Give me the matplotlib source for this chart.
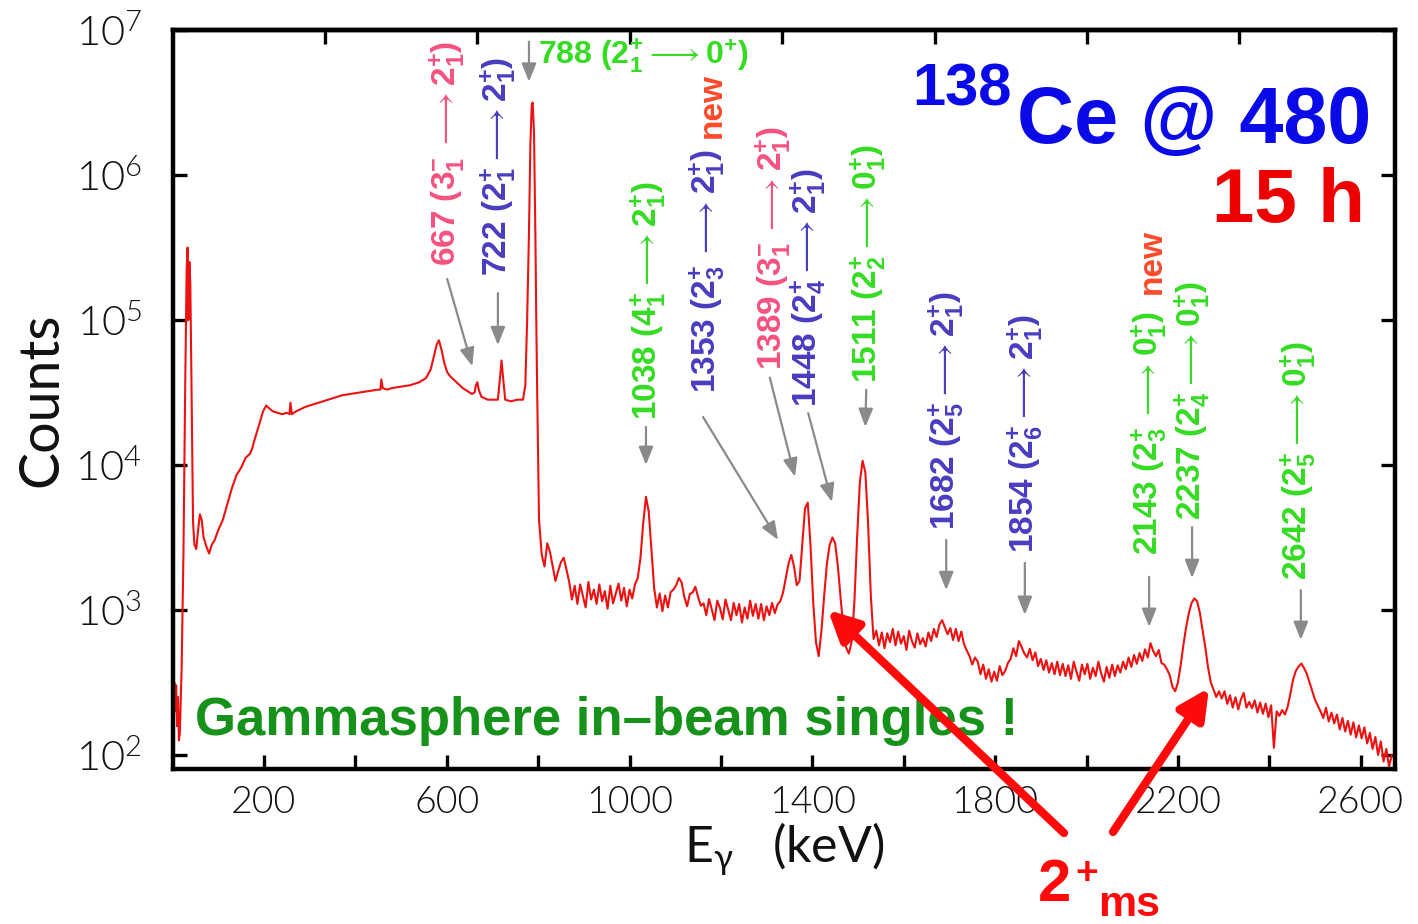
import matplotlib
matplotlib.use("Agg")
import matplotlib.pyplot as plt
from matplotlib.ticker import NullLocator
import numpy as np

# --- spectrum up to the 788 keV line, read point by point (keV, counts) ---
low_kev = [2, 4, 6, 8, 10, 12, 14, 16, 20, 24, 28, 31, 33, 35, 37, 39, 42, 45, 48,
           52, 56, 60, 64, 68, 74, 80, 86, 92, 100, 110, 120, 130, 140, 150, 160,
           170, 175, 180, 190, 198, 205, 212, 220, 230, 240, 250, 256, 258, 261,
           270, 290, 310, 330, 350, 370, 390, 410, 430, 450, 455, 457, 460, 470,
           480, 500, 520, 540, 555, 565, 572, 578, 583, 589, 595, 601, 608, 615,
           625, 635, 645, 655, 661, 664, 667, 670, 676, 690, 705, 712, 716, 720,
           724, 728, 740, 755, 767, 772, 776, 780, 783, 786, 788, 791, 794, 796, 798]
low_counts = [224, 316, 200, 302, 158, 251, 126, 141, 398, 2510, 39800, 224000,
              316000, 100000, 251000, 178000, 25100, 3980, 2820,
              2630, 3550, 4570, 4170, 3160, 2750, 2450, 2820, 3020, 3550, 4170,
              5370, 6920, 8510, 9550, 11200,
              12000, 13200, 15100, 19100, 23400, 25700, 24500, 23400, 22900,
              22400, 22900, 22400, 26900, 22400,
              23400, 25100, 26300, 27500, 28800, 30200, 30900, 31600, 32400,
              33100, 33100, 38900, 33900, 33100,
              33900, 34700, 35500, 37200, 39800, 45700, 56200, 67600, 72400,
              61700, 50100, 43700, 40700, 38900,
              36300, 33900, 32400, 30900, 31600, 35500, 37200, 33100, 29500,
              28200, 28200, 28200, 38000, 52500,
              38000, 28200, 27500, 28200, 28200, 35500, 100000, 398000, 1585000,
              3020000, 3160000, 2000000, 398000, 100000, 31600]

# --- above 800 keV, channel by channel in 6 keV bins ---
bin_start_kev = 802
bin_width_kev = 6
high_counts = [
    4170, 2400, 1995, 2880, 2510, 1995, 1585, 1860, 2140, 2290,   # 802
    1905, 1560, 1180, 1470, 1100, 1500, 1250, 1040, 1560, 1180,   # 862
    1380, 1100, 1500, 1150, 1350, 1020, 1470, 1110, 1300, 1520,   # 922
    1160, 1420, 1060, 1380, 1200, 1500, 1660, 2290, 3980, 6030,   # 982
    4790, 2630, 1410, 1040, 1300, 980, 1260, 1040, 1330, 1380,    # 1042
    1480, 1660, 1550, 1230, 1060, 1290, 1320, 1445, 1230, 1070,   # 1102
    1110, 920, 1190, 1010, 850, 1160, 1030, 860, 1180, 1000,      # 1162
    850, 1120, 920, 1100, 820, 1040, 870, 1160, 910, 1100,        # 1222
    870, 1100, 850, 1060, 920, 1120, 950, 1090, 1150, 1320,       # 1282
    1660, 2090, 2400, 1995, 1480, 1585, 2820, 5010, 5500, 2820,   # 1342
    1120, 600, 480, 720, 1260, 2090, 2820, 3160, 2880, 1995,      # 1402
    1200, 760, 550, 500, 600, 1120, 3160, 7590, 10700, 8910,      # 1462
    3980, 1260, 630, 720, 570, 700, 545, 690, 600, 740,           # 1522
    570, 710, 585, 660, 530, 720, 610, 550, 690, 580,             # 1582
    640, 560, 700, 610, 740, 650, 790, 850, 760, 680,             # 1642
    750, 620, 740, 610, 710, 580, 525, 480, 420, 470,             # 1702
    440, 360, 420, 335, 390, 320, 375, 325, 410, 355,             # 1762
    380, 430, 460, 545, 480, 610, 555, 500, 470, 540,             # 1822
    450, 510, 410, 460, 385, 450, 370, 430, 360, 440,             # 1882
    355, 425, 350, 415, 335, 440, 375, 325, 420, 360,             # 1942
    425, 335, 400, 350, 440, 365, 320, 405, 340, 420,             # 2002
    350, 415, 370, 440, 390, 470, 405, 490, 425, 505,             # 2062
    445, 535, 470, 590, 520, 480, 530, 430, 420, 390,             # 2122
    355, 295, 275, 316, 415, 575, 760, 955, 1120, 1200,           # 2182
    1150, 955, 725, 550, 400, 316, 282, 251, 275, 245,            # 2242
    275, 225, 258, 212, 250, 206, 242, 268, 212, 232,             # 2302
    210, 238, 196, 230, 192, 226, 182, 220, 112, 200,             # 2362
    186, 204, 190, 214, 263, 331, 380, 407, 427, 398,             # 2422
    363, 316, 275, 240, 219, 200, 180, 212, 170, 196,             # 2482
    165, 190, 150, 180, 145, 172, 138, 168, 132, 160,             # 2542
    130, 155, 120, 142, 110, 133, 100, 124, 90, 110,              # 2602
    83, 100,                                                      # 2662
]
high_kev = bin_start_kev + bin_width_kev * np.arange(len(high_counts))

energy = np.concatenate([low_kev, high_kev])
counts = np.concatenate([low_counts, high_counts])

# --- line labels ---
GREEN, BLUE, PINK, NEW = "#35dc22", "#4a3cc0", "#f5527f", "#ff4a2a"
label_texts = [
    r"667 ($3^{-}_{1}\,\longrightarrow 2^{+}_{1}$)",
    r"722 ($2^{+}_{1}\longrightarrow 2^{+}_{1}$)",
    r"1038 ($4^{+}_{1}\longrightarrow 2^{+}_{1}$)",
    r"1353 ($2^{+}_{3}\,\longrightarrow 2^{+}_{1}$)",
    r"1389 ($3^{-}_{1}\,\longrightarrow 2^{+}_{1}$)",
    r"1448 ($2^{+}_{4}\longrightarrow 2^{+}_{1}$)",
    r"1511 ($2^{+}_{2}\longrightarrow 0^{+}_{1}$)",
    r"1682 ($2^{+}_{5}\longrightarrow 2^{+}_{1}$)",
    r"1854 ($2^{+}_{6}\longrightarrow 2^{+}_{1}$)",
    r"2143 ($2^{+}_{3}\,\longrightarrow 0^{+}_{1}$)",
    r"2237 ($2^{+}_{4}\longrightarrow 0^{+}_{1}$)",
    r"2642 ($2^{+}_{5}\longrightarrow 0^{+}_{1}$)",
]
label_colors = [PINK, BLUE, GREEN, BLUE, PINK, BLUE, GREEN, BLUE, BLUE,
                GREEN, GREEN, GREEN]
# foot of each rotated label, arrow tail and arrow tip (keV, counts)
label_foot = [(601, 2.35e5), (712, 2.0e5), (1040, 2.04e4), (1170, 3.14e4),
              (1314, 4.5e4), (1391, 2.5e4), (1522, 3.7e4), (1693, 3560),
              (1865, 2470), (2137, 2390), (2231, 4180), (2463, 1610)]
arrow_tail = [(601, 1.92e5), (712, 1.53e5), (1036, 1.83e4), (1161, 2.14e4),
              (1307, 4.0e4), (1391, 2.28e4), (1518, 3.3e4), (1693, 3040),
              (1865, 2110), (2137, 1690), (2231, 3730), (2469, 1370)]
arrow_tip = [(656, 4.8e4), (712, 6.7e4), (1036, 1.0e4), (1325, 3040),
             (1362, 8300), (1443, 5560), (1516, 1.83e4), (1693, 1370),
             (1865, 925), (2137, 764), (2231, 1660), (2469, 621)]
new_foot = [(1181, 1.8e6), (2143, 1.5e5)]

plt.rcParams["font.family"] = ["Lato", "DejaVu Sans"]
plt.rcParams["font.weight"] = 300
plt.rcParams["mathtext.default"] = "regular"
plt.rcParams["mathtext.fontset"] = "dejavusans"

BOLD_FONT = ["Liberation Sans", "DejaVu Sans"]
INK = "#111111"

fig = plt.figure(figsize=(14.18, 9.24), dpi=100)
ax = fig.add_axes([172.5 / 1418, 1 - 769 / 924, 1222.5 / 1418, 739 / 924])

ax.plot(energy, counts, color="#ee1111", lw=1.5)
ax.set_yscale("log")
ax.set_xlim(0, 2675)
ax.set_ylim(80, 1e7)

ax.set_xticks([200, 600, 1000, 1400, 1800, 2200, 2600])
ax.set_xticks([400, 800, 1200, 1600, 2000, 2400], minor=True)
ax.yaxis.set_minor_locator(NullLocator())
ax.tick_params(which="both", direction="in", length=10, width=2.4,
               top=False, right=True, colors="black", labelcolor=INK)
ax.tick_params(axis="x", labelsize=27, pad=12)
ax.tick_params(axis="y", labelsize=30, pad=22)
for s in ax.spines.values():
    s.set_linewidth(3.2)

top = ax.secondary_xaxis("top")
top.set_xticks([333.5, 667, 1000.5, 1334, 1667.5, 2001, 2334.5])
top.xaxis.set_minor_locator(NullLocator())
top.tick_params(direction="in", length=10, width=2.4, labeltop=False)
top.spines["top"].set_linewidth(3.2)

ax.set_xlabel(r"E$_{\gamma}$   (keV)", fontsize=36, color=INK)
ax.xaxis.set_label_coords(0.5, -0.07)
ax.set_ylabel("Counts", fontsize=40, color=INK)
ax.yaxis.set_label_coords(-0.086, 0.5)

grey_arrow = dict(arrowstyle="-|>,head_length=0.55,head_width=0.22",
                  color="#8a8a8a", lw=1.6, mutation_scale=20,
                  shrinkA=0, shrinkB=0)

for txt, col, foot, tail, tip in zip(label_texts, label_colors, label_foot,
                                     arrow_tail, arrow_tip):
    ax.text(foot[0], foot[1], txt, rotation=90, ha="center", va="bottom",
            color=col, fontsize=24, family=BOLD_FONT, fontweight="bold")
    ax.annotate("", xy=tip, xytext=tail, arrowprops=grey_arrow)

for x, y in new_foot:
    ax.text(x, y, "new", rotation=90, ha="center", va="bottom", color=NEW,
            fontsize=24, family=BOLD_FONT, fontweight="bold")

# the main 788 keV line, horizontal label
ax.text(800, 6.6e6, r"788 ($2^{+}_{1}\longrightarrow 0^{+}$)", ha="left",
        va="center", color=GREEN, fontsize=23, family=BOLD_FONT,
        fontweight="bold")
ax.annotate("", xy=(780, 4.4e6), xytext=(780, 8.3e6), arrowprops=grey_arrow)

ax.text(0.6049, 0.8985, "138", transform=ax.transAxes, color="#0a0ae8",
        fontsize=43, family=BOLD_FONT, fontweight="bold", va="baseline")
ax.text(0.6908, 0.8471, "Ce @ 480", transform=ax.transAxes, color="#0a0ae8",
        fontsize=57, family=BOLD_FONT, fontweight="bold", va="baseline")
ax.text(0.8503, 0.7402, "15 h", transform=ax.transAxes, color="#ee0000",
        fontsize=55, family=BOLD_FONT, fontweight="bold", va="baseline")

ax.text(0.0184, 0.046, "Gammasphere in\u2013beam singles !",
        transform=ax.transAxes, color="#16921a", fontsize=38,
        family=BOLD_FONT, fontweight="bold", va="baseline")

# 2+ mixed-symmetry state markers
red_arrow = dict(arrowstyle="-|>,head_length=0.9,head_width=0.45",
                 color="#ff0a0a", lw=6, mutation_scale=20,
                 shrinkA=0, shrinkB=0)
ax.annotate("", xy=(1434, 1000), xytext=(1064, 91), textcoords="figure pixels",
            arrowprops=red_arrow, annotation_clip=False)
ax.annotate("", xy=(2268, 290), xytext=(1113, 92), textcoords="figure pixels",
            arrowprops=red_arrow, annotation_clip=False)
fig.text(1038 / 1418, 1 - 901 / 924, "2", color="#ff0a0a", fontsize=43,
         family=BOLD_FONT, fontweight="bold", va="baseline")
fig.text(1075 / 1418, 1 - 884 / 924, "+", color="#ff0a0a", fontsize=28,
         family=BOLD_FONT, fontweight="bold", va="baseline")
fig.text(1098 / 1418, 1 - 916 / 924, "ms", color="#ff0a0a", fontsize=31,
         family=BOLD_FONT, fontweight="bold", va="baseline")

fig.savefig("out.png", dpi=100, facecolor="white")
